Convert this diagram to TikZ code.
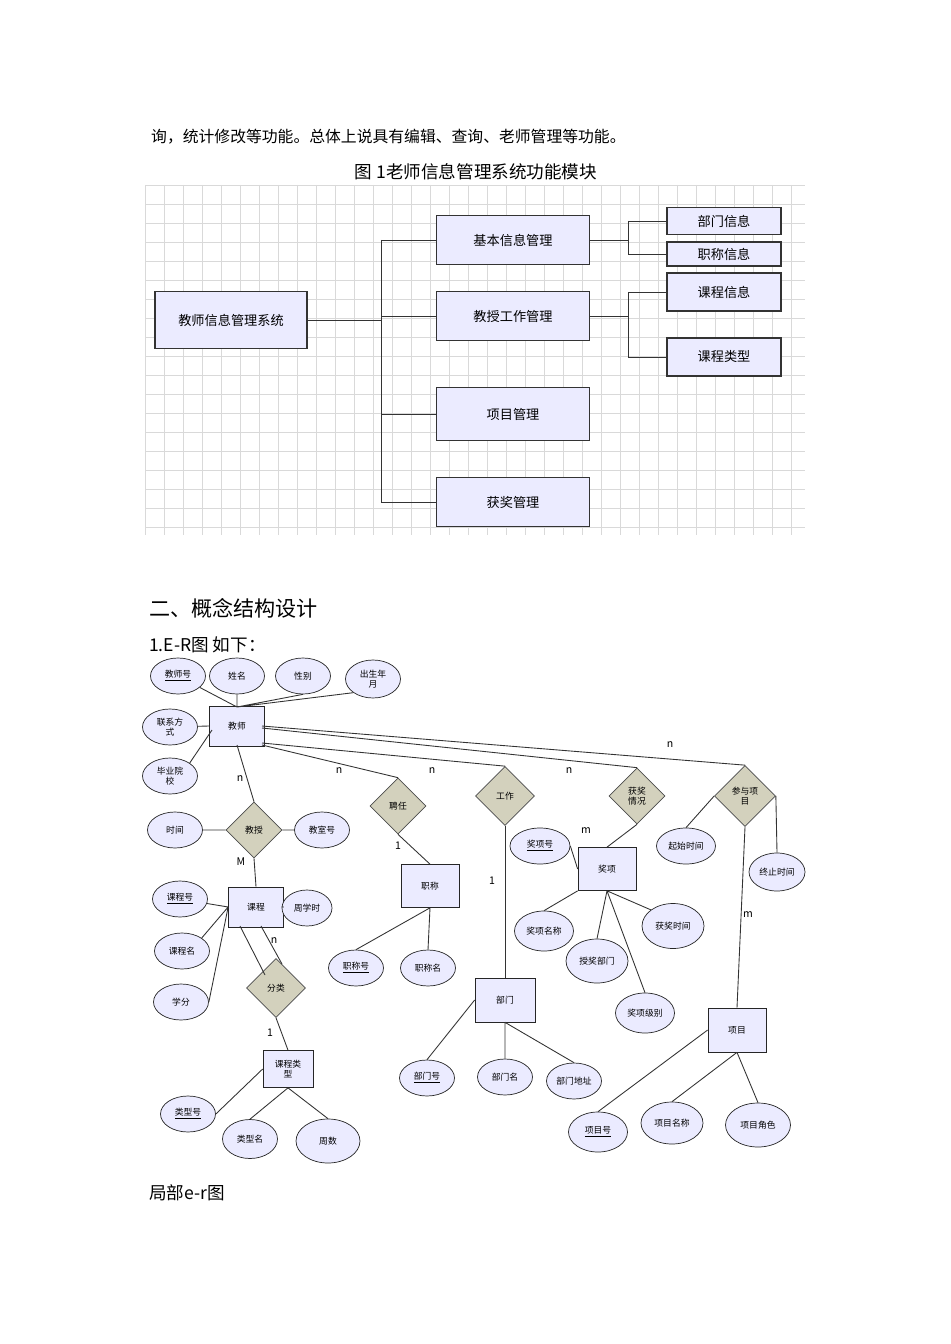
\documentclass[tikz,border=0pt]{standalone}
\usepackage{fontspec}
\setmainfont{Noto Sans CJK SC}
\usetikzlibrary{shapes.geometric}
\begin{document}
\begin{tikzpicture}[x=0.02cm,y=-0.02cm,
 box/.style={draw=black!80,fill=blue!8!white,line width=0.6pt,font=\fontsize{7.5}{9}\selectfont,inner sep=0pt},
 ent/.style={draw=black!85,fill=blue!8!white,minimum width=1.1cm,minimum height=0.8cm,inner sep=0pt,font=\fontsize{5}{6}\selectfont,align=center},
 att/.style={draw=black!85,fill=blue!8!white,ellipse,minimum width=1.1cm,minimum height=0.72cm,inner sep=0pt,font=\fontsize{5}{6}\selectfont,align=center},
 rel/.style={draw=black!70,fill=olive!25!gray!40,diamond,minimum width=1.12cm,minimum height=1.12cm,inner sep=0pt,font=\fontsize{5}{6}\selectfont,align=center},
 lbl/.style={font=\fontsize{6}{7}\selectfont},
 ln/.style={draw=black!80,line width=0.5pt}]
\useasboundingbox (0,0) rectangle (950,1344);
\node[anchor=west,font=\fontsize{9}{10}\selectfont] (t1) at (145,137) {询，统计修改等功能。总体上说具有编辑、查询、老师管理等功能。};
\node[font=\fontsize{10}{12}\selectfont] (t2) at (476,172) {图 1老师信息管理系统功能模块};
% grid
\foreach \y in {185,204,...,535} \draw[black!15,line width=0.3pt] (145,\y) -- (805,\y);
\foreach \x in {145,164,...,805} \draw[black!15,line width=0.3pt] (\x,185) -- (\x,535);
\node[box,minimum width=3.04cm,minimum height=1.14cm] (m) at (231,320) {教师信息管理系统};
\node[box,minimum width=3.06cm,minimum height=0.98cm] (a) at (513,240) {基本信息管理};
\node[box,minimum width=3.06cm,minimum height=0.98cm] (b) at (513,316) {教授工作管理};
\node[box,minimum width=3.06cm,minimum height=1.06cm] (c) at (513,414) {项目管理};
\node[box,minimum width=3.06cm,minimum height=0.98cm] (d) at (513,502) {获奖管理};
\node[box,minimum width=2.28cm,minimum height=0.54cm] (a1) at (724,221) {部门信息};
\node[box,minimum width=2.28cm,minimum height=0.48cm] (a2) at (724,254) {职称信息};
\node[box,minimum width=2.28cm,minimum height=0.76cm] (b1) at (724,292) {课程信息};
\node[box,minimum width=2.28cm,minimum height=0.76cm] (b2) at (724,357) {课程类型};
\coordinate (j) at (381,320);
\draw[ln] (m.east) -- (j) (381,240) -- (381,502);
\foreach \n in {a,b,c,d} \draw[ln] (\n.west) -- (\n.west -| j);
\coordinate (ja) at (628,240); \coordinate (jb) at (628,316);
\draw[ln] (a.east) -- (ja) (628,221) -- (628,254) (628,221) -- (a1.west) (628,254) -- (a2.west);
\draw[ln] (b.east) -- (jb) (628,292) -- (628,357) (628,292) -- (b1.west) (628,357) -- (b2.west);
\node[anchor=west,font=\fontsize{12}{14}\selectfont] (h1) at (143,608) {二、概念结构设计};
\node[anchor=west,font=\fontsize{10}{12}\selectfont] (h2) at (143,645) {1.E-R图 如下：};
\node[anchor=west,font=\fontsize{10}{12}\selectfont] (h3) at (143,1193) {局部e-r图};
% ER
\node[ent] (js) at (237,726) {教师};
\node[ent] (kc) at (256,907) {课程};
\node[ent,minimum height=0.86cm,minimum width=1.16cm] (zc) at (430,886) {职称};
\node[ent,minimum height=0.88cm,minimum width=1.2cm] (bm) at (505,1000) {部门};
\node[ent,minimum height=0.86cm,minimum width=1.16cm] (jx) at (607,869) {奖项};
\node[ent,minimum height=0.88cm,minimum width=1.16cm] (xm) at (737,1030) {项目};
\node[ent,minimum height=0.74cm,minimum width=1cm] (kl) at (288,1069) {课程类\\型};
\node[rel] (jsh) at (254,830) {教授};
\node[rel] (pr) at (398,806) {聘任};
\node[rel,minimum width=1.18cm,minimum height=1.18cm] (gz) at (505,796) {工作};
\node[rel] (hj) at (637,796) {获奖\\情况};
\node[rel,minimum width=1.22cm,minimum height=1.22cm] (cy) at (745,796) {参与项\\目};
\node[rel,minimum width=1.18cm,minimum height=1.18cm] (fl) at (276,988) {分类};
\node[att] (e1) at (178,676) {\underline{教师号}};
\node[att] (e2) at (237,676) {姓名};
\node[att] (e3) at (303,676) {性别};
\node[att,minimum height=0.76cm] (e4) at (373,679) {出生年\\月};
\node[att] (e5) at (170,727) {联系方\\式};
\node[att] (e6) at (170,776) {毕业院\\校};
\node[att] (t) at (175,830) {时间};
\node[att] (js2) at (322,830) {教室号};
\node[att] (k1) at (180,899) {\underline{课程号}};
\node[att,minimum width=1.0cm] (k2) at (307,908) {周学时};
\node[att] (k3) at (182,951) {课程名};
\node[att] (k4) at (181,1002) {学分};
\node[att] (l1) at (188,1114) {\underline{类型号}};
\node[att,minimum height=0.78cm] (l2) at (250,1139) {类型名};
\node[att,minimum width=1.28cm,minimum height=0.88cm] (l3) at (328,1141) {周数};
\node[att] (z1) at (356,968) {\underline{职称号}};
\node[att] (z2) at (428,968) {职称名};
\node[att] (b1e) at (427,1078) {\underline{部门号}};
\node[att] (b2e) at (505,1077) {部门名};
\node[att] (b3e) at (574,1081) {部门地址};
\node[att,minimum width=1.2cm] (x1) at (540,846) {\underline{奖项号}};
\node[att,minimum width=1.18cm] (x2) at (686,846) {起始时间};
\node[att,minimum width=1.12cm,minimum height=0.76cm] (x3) at (777,872) {终止时间};
\node[att,minimum width=1.18cm,minimum height=0.8cm] (x4) at (544,931) {奖项名称};
\node[att,minimum width=1.24cm,minimum height=0.9cm] (x5) at (673,926) {获奖时间};
\node[att,minimum width=1.24cm,minimum height=0.88cm] (x6) at (597,961) {授奖部门};
\node[att,minimum width=1.18cm,minimum height=0.8cm] (x7) at (645,1013) {奖项级别};
\node[att,minimum width=1.18cm,minimum height=0.8cm] (p1) at (598,1132) {\underline{项目号}};
\node[att,minimum width=1.24cm,minimum height=0.84cm] (p2) at (672,1123) {项目名称};
\node[att,minimum width=1.3cm,minimum height=0.88cm] (p3) at (758,1125) {项目角色};
\coordinate (jt) at (237,707);
\draw[ln] (e1) -- (jt) (e2) -- (jt) (e3.south) -- (jt) (e4.south west) -- (jt);
\draw[ln] (e5) -- (js.west) (e6.north east) -- (212,730);
\draw[ln] (237,745) -- (jsh.north) (262,745) -- (pr.north) (262,743) -- (gz.north) (262,728) -- (hj.north) (262,726) -- (cy.north);
\draw[ln] (t) -- (jsh.west) (jsh.east) -- (js2) (jsh.south) -- (kc.north);
\draw[ln] (pr.south) -- (zc.north);
\draw[ln] (gz.south) -- (bm.north);
\draw[ln] (hj.south) -- (jx.north);
\draw[ln] (cy.west) -- (x2.north) (cy.east) -- (x3.north) (cy.south) -- (xm.north);
\draw[ln] (k1) -- (kc.west) (k3.north east) -- (kc.west) (k4.east) -- (kc.west) (kc.east) -- (k2);
\draw[ln] (240,926) -- (265,975) (261,926) -- (282,964);
\draw[ln] (fl.south) -- (kl.north);
\draw[ln] (l1.east) -- (kl.west) (l2.north) -- (kl.south) (l3.north) -- (kl.south);
\draw[ln] (z1.north) -- (zc.south) (z2.north) -- (zc.south);
\draw[ln] (b1e.north) -- (bm.west) (b2e) -- (bm.south) (b3e.north) -- (bm.south);
\draw[ln] (x1.east) -- (jx.west) (x4.north) -- (jx.south west) (x6.north) -- (jx.south) (x7.north) -- (jx.south) (x5.north west) -- (jx.south);
\draw[ln] (p1.north) -- (xm.west) (p2.north) -- (xm.south) (p3.north) -- (xm.south);
\node[lbl] (n1) at (240,779) {n};
\node[lbl] (n2) at (339,771) {n};
\node[lbl] (n3) at (432,771) {n};
\node[lbl] (n4) at (569,771) {n};
\node[lbl] (n5) at (670,745) {n};
\node[lbl] (n6) at (241,862) {M};
\node[lbl] (n7) at (398,846) {1};
\node[lbl] (n8) at (492,881) {1};
\node[lbl] (n9) at (586,831) {m};
\node[lbl] (n10) at (748,915) {m};
\node[lbl] (n11) at (274,941) {n};
\node[lbl] (n12) at (270,1033) {1};
\end{tikzpicture}
\end{document}
